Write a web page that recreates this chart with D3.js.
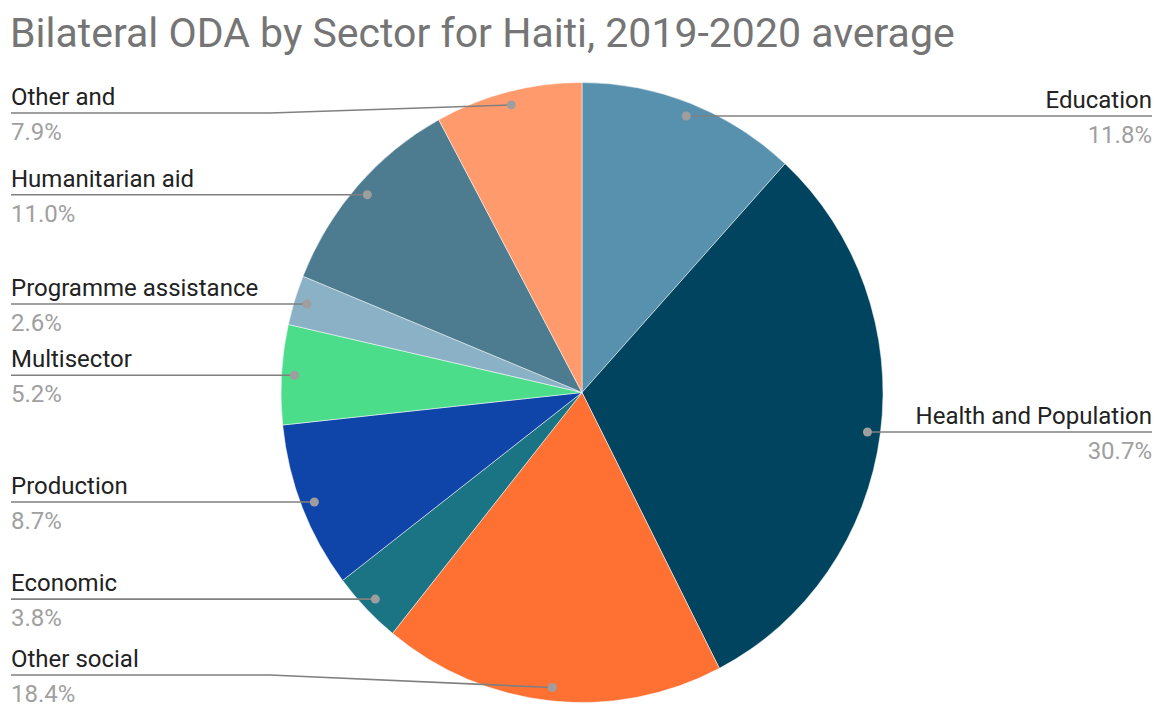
<!DOCTYPE html>
<html>
<head>
<meta charset="utf-8">
<script src="https://cdn.jsdelivr.net/npm/d3@7"></script>
<style>
  html, body { margin: 0; padding: 0; background: #fff; }
  svg { display: block; font-family: Roboto, Arial, sans-serif; }
</style>
</head>
<body>
<svg id="chart" width="1158" height="706"></svg>
<script>
// sectors, clockwise from 12 o'clock
const sectors = ['Education', 'Health and Population', 'Other social', 'Economic', 'Production',
    'Multisector', 'Programme assistance', 'Humanitarian aid', 'Other and'];
const shares = [11.8, 30.7, 18.4, 3.8, 8.7, 5.2, 2.6, 11.0, 7.9];
const colors = ['#5891ae', '#00445f', '#ff7033', '#1b7483', '#0f44a8',
    '#4cdd8b', '#8ab1c6', '#4d7c90', '#ff9a6c'];

(function () {
    const svg = d3.select('#chart');
    const cx = 582, cy = 392.5, r = 301, sy = 1.03; // picture is slightly stretched vertically
    const dotR = 288;
    const lineMin = 113, lineMax = 675;

    svg.append('text')
        .attr('x', 10).attr('y', 47)
        .style('font-size', '41px')
        .style('fill', '#757575')
        .text('Bilateral ODA by Sector for Haiti, 2019-2020 average');

    let data = sectors.map((s, i) => ({ name: s, value: shares[i], color: colors[i] }));
    let arcs = d3.pie().sort(null).value(d => d.value)(data);

    let arc = d3.arc().innerRadius(0).outerRadius(r);
    let dotArc = d3.arc().innerRadius(dotR).outerRadius(dotR);

    let pie = svg.append('g').attr('transform', `translate(${cx},${cy}) scale(1,${sy})`);
    pie.selectAll('path')
        .data(arcs)
        .enter()
        .append('path')
        .attr('d', arc)
        .style('fill', d => d.data.color)
        .style('stroke', '#fff')
        .style('stroke-width', 0.5);

    // labels with leader lines
    arcs.forEach(d => {
        let c = dotArc.centroid(d);
        let dx = cx + c[0], dy = cy + c[1] * sy;
        let left = (d.startAngle + d.endAngle) / 2 > Math.PI;
        let lx = left ? 11 : 1152;
        let bx = left ? 270 : 893;
        let ly = Math.max(lineMin, Math.min(lineMax, dy));

        svg.append('path')
            .attr('d', d3.line()([[lx, ly], [bx, ly], [dx, dy]]))
            .style('fill', 'none')
            .style('stroke', '#808080')
            .style('stroke-width', 1.6);
        svg.append('circle')
            .attr('cx', dx).attr('cy', dy).attr('r', 4.5)
            .style('fill', '#9e9e9e');

        svg.append('text')
            .attr('x', lx).attr('y', ly - 8)
            .attr('text-anchor', left ? 'start' : 'end')
            .style('font-size', '24px')
            .style('fill', '#222')
            .text(d.data.name);
        svg.append('text')
            .attr('x', lx).attr('y', ly + 27)
            .attr('text-anchor', left ? 'start' : 'end')
            .style('font-size', '24px')
            .style('fill', '#a0a0a0')
            .text(d.data.value.toFixed(1) + '%');
    });
}());
</script>
</body>
</html>
